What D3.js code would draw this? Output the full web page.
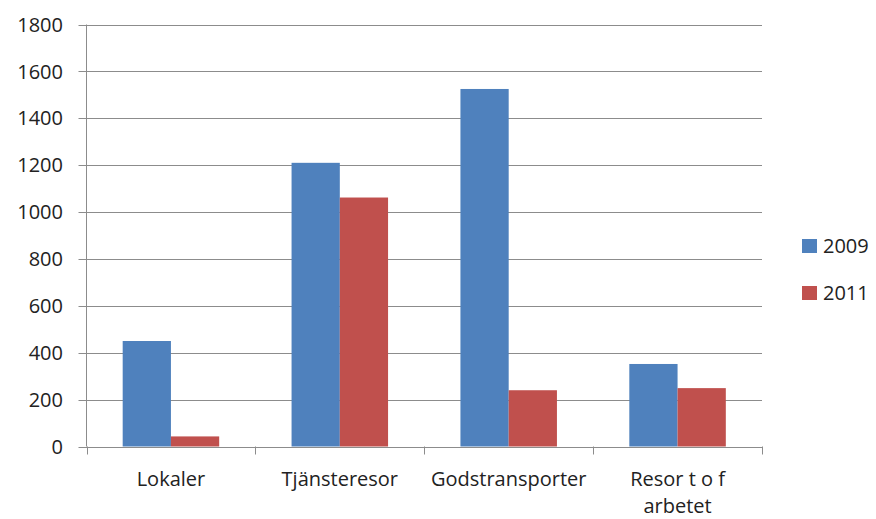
<!DOCTYPE html>
<html>
<head>
<meta charset="utf-8">
<script src="https://cdn.jsdelivr.net/npm/d3@7"></script>
<style>
  body { margin: 0; background: #fff; }
  text { font-family: "Open Sans", sans-serif; fill: #222; }
</style>
</head>
<body>
<svg id="chart" width="876" height="519"></svg>
<script>
// chart data
const categories = ["Lokaler", "Tjänsteresor", "Godstransporter", "Resor t o f arbetet"];
const series = ["2009", "2011"];
const values2009 = [450, 1210, 1525, 352];
const values2011 = [43, 1062, 240, 249];
const yTicks = [0, 200, 400, 600, 800, 1000, 1200, 1400, 1600, 1800];
const colors = ["#4F81BD", "#C0504D"];

const svg = d3.select("#chart");
const m = {left: 86.5, right: 762, top: 24.5, bottom: 446.5};

const x = d3.scaleBand().domain(categories).range([m.left, m.right]);
const xs = d3.scaleBand().domain(series).range([0, x.bandwidth()]).paddingOuter(0.75).paddingInner(0);
const y = d3.scaleLinear().domain([0, 1800]).range([m.bottom, m.top]);

// gridlines
svg.append("g").selectAll("line").data(yTicks).join("line")
  .attr("x1", m.left - 8).attr("x2", m.right)
  .attr("y1", d => Math.round(y(d)) + 0.5).attr("y2", d => Math.round(y(d)) + 0.5)
  .attr("stroke", "#8c8c8c").attr("stroke-width", 1);

// y labels
svg.append("g").selectAll("text").data(yTicks).join("text")
  .attr("x", 63).attr("y", d => y(d))
  .attr("dy", "0.36em").attr("text-anchor", "end")
  .style("font-size", "20px").text(d => d);

// y axis line
svg.append("line").attr("x1", m.left).attr("x2", m.left)
  .attr("y1", m.top).attr("y2", m.bottom).attr("stroke", "#8c8c8c");

// bars
const rows = categories.map((c, i) => ({cat: c, vals: [values2009[i], values2011[i]]}));
const grp = svg.append("g").selectAll("g").data(rows).join("g")
  .attr("transform", d => `translate(${x(d.cat)},0)`);
grp.selectAll("rect").data(d => d.vals.map((v, j) => ({s: series[j], v, j}))).join("rect")
  .attr("x", d => xs(d.s)).attr("width", xs.bandwidth())
  .attr("y", d => y(d.v)).attr("height", d => y(0) - y(d.v))
  .attr("fill", d => colors[d.j]);

// x axis ticks
const xTickPos = categories.map(c => x(c)).concat([m.right]);
svg.append("g").selectAll("line").data(xTickPos).join("line")
  .attr("x1", d => Math.round(d) + 0.5).attr("x2", d => Math.round(d) + 0.5)
  .attr("y1", m.bottom).attr("y2", m.bottom + 8).attr("stroke", "#8c8c8c");

// category labels (wrapped as in original)
const catLines = {"Resor t o f arbetet": ["Resor t o f", "arbetet"]};
svg.append("g").selectAll("text").data(categories).join("text")
  .attr("x", d => x(d) + x.bandwidth() / 2).attr("y", 486)
  .attr("text-anchor", "middle").style("font-size", "20px")
  .each(function(d) {
    const lines = catLines[d] || [d];
    d3.select(this).selectAll("tspan").data(lines).join("tspan")
      .attr("x", x(d) + x.bandwidth() / 2).attr("dy", (l, i) => i ? 27 : 0).text(l => l);
  });

// legend
const leg = svg.append("g").selectAll("g").data(series).join("g")
  .attr("transform", (d, i) => `translate(802,${239 + i * 47})`);
leg.append("rect").attr("width", 15).attr("height", 14).attr("fill", (d, i) => colors[i]);
leg.append("text").attr("x", 21).attr("y", 7).attr("dy", "0.36em")
  .style("font-size", "20px").text(d => d);
</script>
</body>
</html>
